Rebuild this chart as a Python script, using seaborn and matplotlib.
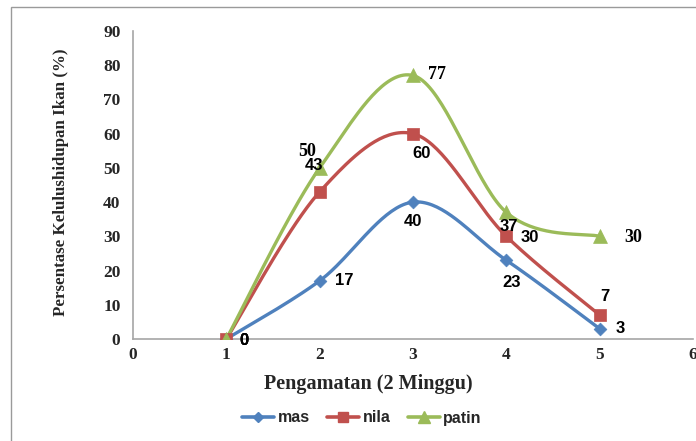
import numpy as np
import pandas as pd
import matplotlib
matplotlib.use("Agg")
import matplotlib.pyplot as plt
from matplotlib.lines import Line2D
from matplotlib.patches import Rectangle
import seaborn as sns

# Survival observations (every 2 weeks)
pengamatan = [1, 2, 3, 4, 5]
mas = [0, 17, 40, 23, 3]
nila = [0, 43, 60, 30, 7]
patin = [0, 50, 77, 37, 30]

series_names = ["mas", "nila", "patin"]
series_values = [mas, nila, patin]
colors = {"mas": "#4F81BD", "nila": "#C0504D", "patin": "#9BBB59"}
markers = {"mas": "D", "nila": "s", "patin": "^"}
marker_sizes = {"mas": 6.5, "nila": 9, "patin": 10}

# label offsets (points) and font style for each data label
label_offsets = {
    "mas": [(13, -1), (18, 0), (0, -14), (4, -16), (15, 0)],
    "nila": [(13, -1), (-4, 19), (6, -14), (17, -1), (4, 13)],
    "patin": [(13, -1), (-9, 12), (17, 1), (2, -10), (24, -1)],
}
label_serif = {
    "mas": [False] * 5,
    "nila": [False] * 5,
    "patin": [False, True, True, False, True],
}

df = pd.DataFrame({
    "Pengamatan": pengamatan * 3,
    "Persen": mas + nila + patin,
    "Ikan": sum([[n] * len(pengamatan) for n in series_names], []),
})

sns.set_theme(style="white")
plt.rcParams["font.family"] = ["Liberation Serif", "DejaVu Serif"]

fig = plt.figure(figsize=(6.96, 4.41), dpi=100)
ax = fig.add_axes([133 / 696, 1 - 339 / 441, 560 / 696, 308 / 441])

# outer chart border
fig.patches.append(Rectangle((11 / 696, -0.01), 0.99, 1 - 7 / 441 + 0.01,
                             transform=fig.transFigure, fill=False,
                             edgecolor="#9a9a9a", lw=1.0))


def smooth_curve(x, y, n=40):
    """Bezier smoothing through the points (Catmull-Rom style tangents)."""
    p = np.column_stack([x, y]).astype(float)
    ext = np.vstack([p[0], p, p[-1]])
    out = []
    t = np.linspace(0, 1, n)[:, None]
    for i in range(len(p) - 1):
        p0, p1, p2, p3 = ext[i], ext[i + 1], ext[i + 2], ext[i + 3]
        c1 = p1 + (p2 - p0) / 6.0
        c2 = p2 - (p3 - p1) / 6.0
        seg = ((1 - t) ** 3) * p1 + 3 * ((1 - t) ** 2) * t * c1 \
            + 3 * (1 - t) * t ** 2 * c2 + t ** 3 * p2
        out.append(seg if i == 0 else seg[1:])
    out = np.vstack(out)
    return out[:, 0], out[:, 1]


for name, vals in zip(series_names, series_values):
    sx, sy = smooth_curve(pengamatan, vals)
    sns.lineplot(x=sx, y=sy, ax=ax, color=colors[name], lw=2.4,
                 sort=False, estimator=None, legend=False, zorder=3)
    sub = df[df["Ikan"] == name]
    sns.scatterplot(data=sub, x="Pengamatan", y="Persen", ax=ax,
                    marker=markers[name], s=marker_sizes[name] ** 2,
                    color=colors[name], edgecolor=colors[name],
                    linewidth=0.5, legend=False, zorder=4)

for name, vals in zip(series_names, series_values):
    for i, (xv, yv) in enumerate(zip(pengamatan, vals)):
        dx, dy = label_offsets[name][i]
        fam = ["Liberation Serif"] if label_serif[name][i] else ["Liberation Sans"]
        ax.annotate(str(yv), (xv, yv), xytext=(dx, dy),
                    textcoords="offset points", ha="center", va="center",
                    fontsize=12 if not label_serif[name][i] else 13,
                    fontweight="bold", family=fam, color="black", zorder=5)

ax.set_xlim(0, 6)
ax.set_ylim(0, 90)
ax.set_xticks(range(0, 7))
ax.set_yticks(range(0, 91, 10))
ax.tick_params(axis="both", length=0, labelsize=12.5)
ax.tick_params(axis="x", pad=6)
ax.tick_params(axis="y", pad=9)
for lab in ax.get_xticklabels() + ax.get_yticklabels():
    lab.set_fontweight("bold")
ax.set_xlabel("")
ax.set_ylabel("")
for side in ["top", "right"]:
    ax.spines[side].set_visible(False)
for side in ["left", "bottom"]:
    ax.spines[side].set_color("#a6a6a6")
    ax.spines[side].set_linewidth(1.2)

fig.text(368 / 696, 1 - 384 / 441, "Pengamatan (2 Minggu)", ha="center",
         va="center", fontsize=14.5, fontweight="bold")
fig.text(61 / 696, 1 - 182 / 441, "Persentase Kelulushidupan Ikan (%)",
         ha="center", va="center", rotation=90, fontsize=12.2,
         fontweight="bold")

handles = [Line2D([0], [0], color=colors[n], lw=2.6, marker=markers[n],
                  markersize=marker_sizes[n] * 0.85) for n in series_names]
leg = fig.legend(handles, series_names, loc="center",
                 bbox_to_anchor=(362 / 696, 1 - 418 / 441), ncol=3,
                 frameon=False, handlelength=2.0, handletextpad=0.2,
                 columnspacing=1.1,
                 prop={"family": "Liberation Sans", "weight": "bold",
                       "size": 11.5})

fig.savefig("out.png", dpi=100)
